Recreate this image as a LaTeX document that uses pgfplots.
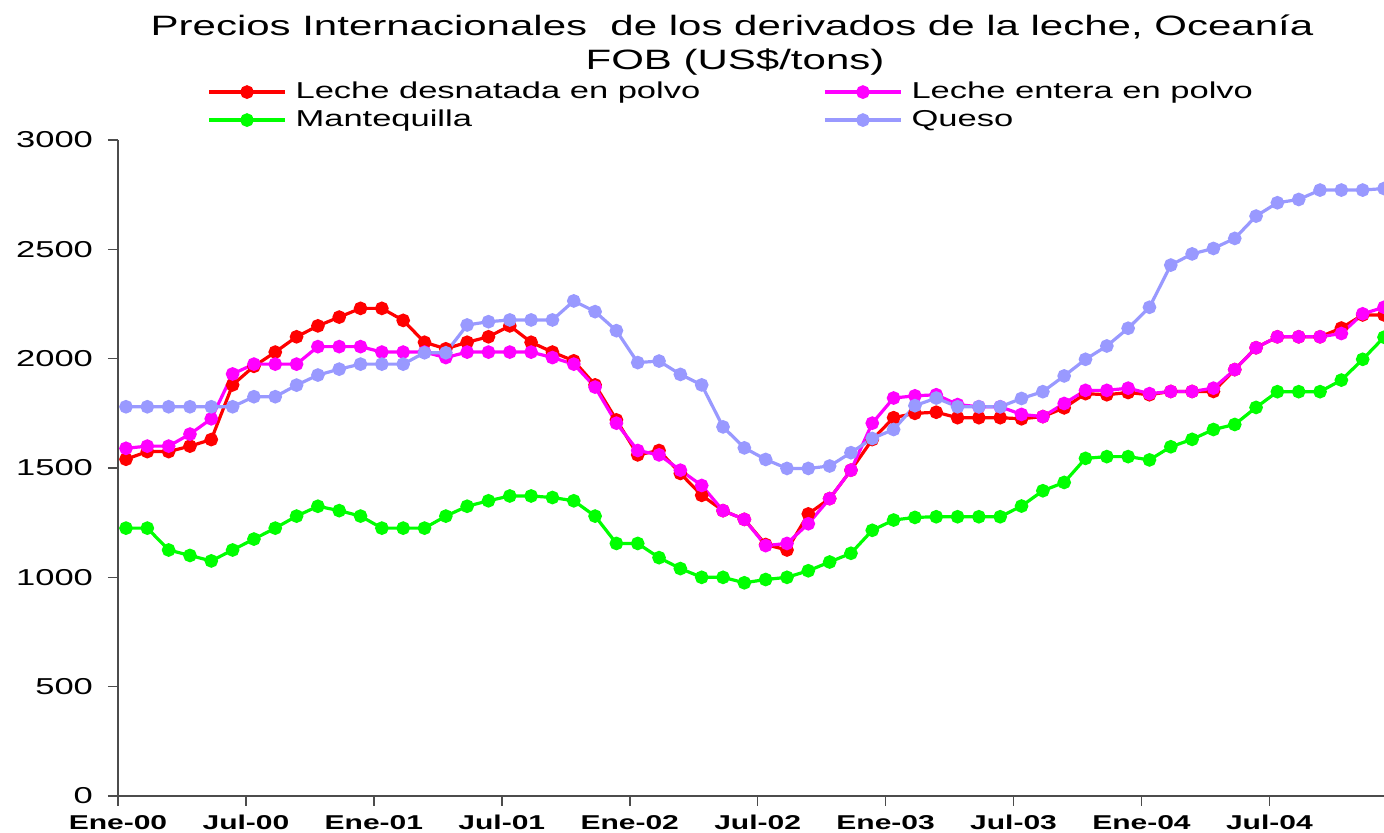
\documentclass[border=0pt]{standalone}
\usepackage{pgfplots}
\pgfplotsset{compat=1.18}
\usepackage{fontspec}
\setmainfont{Liberation Sans}[FakeStretch=1.5]
\definecolor{cRed}{RGB}{255,0,0}
\definecolor{cMag}{RGB}{255,0,255}
\definecolor{cGreen}{RGB}{0,255,0}
\definecolor{cQueso}{RGB}{153,153,255}

\pgfplotstableread{
i y
0 1540
1 1575
2 1575
3 1600
4 1630
5 1880
6 1965
7 2030
8 2100
9 2150
10 2190
11 2230
12 2230
13 2175
14 2075
15 2045
16 2075
17 2100
18 2150
19 2075
20 2030
21 1990
22 1880
23 1720
24 1560
25 1580
26 1475
27 1375
28 1305
29 1265
30 1150
31 1125
32 1290
33 1360
34 1490
35 1630
36 1730
37 1750
38 1755
39 1730
40 1730
41 1730
42 1725
43 1735
44 1775
45 1840
46 1835
47 1845
48 1835
49 1850
50 1850
51 1850
52 1950
53 2050
54 2100
55 2100
56 2100
57 2140
58 2200
59 2200
}\desnatada

\pgfplotstableread{
i y
0 1590
1 1600
2 1600
3 1655
4 1725
5 1930
6 1975
7 1975
8 1975
9 2055
10 2055
11 2055
12 2030
13 2030
14 2030
15 2005
16 2030
17 2030
18 2030
19 2030
20 2005
21 1975
22 1870
23 1705
24 1580
25 1560
26 1490
27 1420
28 1305
29 1265
30 1145
31 1155
32 1245
33 1360
34 1490
35 1705
36 1820
37 1830
38 1835
39 1790
40 1780
41 1780
42 1745
43 1735
44 1795
45 1855
46 1855
47 1865
48 1840
49 1850
50 1850
51 1865
52 1950
53 2050
54 2100
55 2100
56 2100
57 2115
58 2205
59 2235
}\entera

\pgfplotstableread{
i y
0 1225
1 1225
2 1125
3 1100
4 1075
5 1125
6 1175
7 1225
8 1280
9 1325
10 1305
11 1280
12 1225
13 1225
14 1225
15 1280
16 1325
17 1350
18 1372
19 1372
20 1365
21 1350
22 1280
23 1155
24 1155
25 1090
26 1040
27 1000
28 1000
29 975
30 990
31 1000
32 1030
33 1070
34 1110
35 1215
36 1262
37 1274
38 1277
39 1277
40 1277
41 1277
42 1326
43 1396
44 1434
45 1544
46 1552
47 1552
48 1537
49 1597
50 1631
51 1676
52 1699
53 1777
54 1849
55 1849
56 1849
57 1902
58 1997
59 2098
}\mantequilla

\pgfplotstableread{
i y
0 1780
1 1780
2 1780
3 1780
4 1780
5 1780
6 1826
7 1826
8 1879
9 1925
10 1952
11 1975
12 1975
13 1975
14 2027
15 2027
16 2154
17 2169
18 2177
19 2177
20 2177
21 2264
22 2215
23 2128
24 1982
25 1989
26 1928
27 1880
28 1688
29 1592
30 1539
31 1498
32 1498
33 1509
34 1570
35 1635
36 1676
37 1785
38 1820
39 1780
40 1780
41 1780
42 1818
43 1849
44 1921
45 1997
46 2058
47 2139
48 2235
49 2428
50 2479
51 2504
52 2550
53 2652
54 2713
55 2728
56 2771
57 2771
58 2771
59 2778
}\queso

\begin{document}
\begin{tikzpicture}[x=1pt,y=1pt]
\useasboundingbox (0,0) rectangle (692,416.5);
\begin{axis}[
  at={(59pt,18.5pt)}, anchor=south west,
  scale only axis, width=633pt, height=328pt,
  xmin=-0.375, xmax=59, ymin=0, ymax=3000,
  clip=false,
  axis x line*=bottom, axis y line*=left,
  axis line style={-, line width=0.8pt, color=black!70},
  tick align=outside,
  major tick length=5pt,
  tick style={color=black!70, line width=0.8pt},
  xtick={-0.375,5.625,11.625,17.625,23.625,29.625,35.625,41.625,47.625,53.625},
  xticklabels={Ene-00,Jul-00,Ene-01,Jul-01,Ene-02,Jul-02,Ene-03,Jul-03,Ene-04,Jul-04},
  xticklabel style={font=\fontsize{10}{12}\selectfont\bfseries, yshift=-1pt},
  ytick={0,500,1000,1500,2000,2500,3000},
  yticklabels={0,500,1000,1500,2000,2500,3000},
  yticklabel style={font=\fontsize{11.5}{13}\selectfont, xshift=-4pt},
  legend columns=2,
  legend cell align=left,
  legend image code/.code={\draw[mark repeat=2,mark phase=2,#1] plot coordinates {(0pt,0pt) (19pt,0pt) (38pt,0pt)};},
  legend style={at={(0.0703,1.095)}, anchor=north west, draw=none, fill=none,
    inner sep=0pt, row sep=0pt, font=\fontsize{11.5}{13}\selectfont,
    nodes={inner sep=0pt, text height=10.2pt, text depth=3.8pt},
    /tikz/every odd column/.append style={column sep=4.5pt},
    /tikz/every even column/.append style={column sep=61.5pt}},
  every axis plot/.append style={line width=1.6pt, mark=*, mark size=2.6pt, mark options={xscale=1.3, solid}},
]
\addplot[cRed, mark options={fill=cRed}] table[x=i,y=y] {\desnatada};
\addlegendentry{Leche desnatada en polvo}
\addplot[cMag, mark options={fill=cMag}] table[x=i,y=y] {\entera};
\addlegendentry{Leche entera en polvo}
\addplot[cGreen, mark options={fill=cGreen}] table[x=i,y=y] {\mantequilla};
\addlegendentry{Mantequilla}
\addplot[cQueso, mark options={fill=cQueso}] table[x=i,y=y] {\queso};
\addlegendentry{Queso}
\end{axis}
\node[anchor=base, font=\fontsize{14}{17}\selectfont] at (366,398.5) {Precios Internacionales\ \ de los derivados de la leche, Oceanía};
\node[anchor=base, font=\fontsize{14}{17}\selectfont] at (367.5,381.5) {FOB (US\$/tons)};
\end{tikzpicture}
\end{document}
